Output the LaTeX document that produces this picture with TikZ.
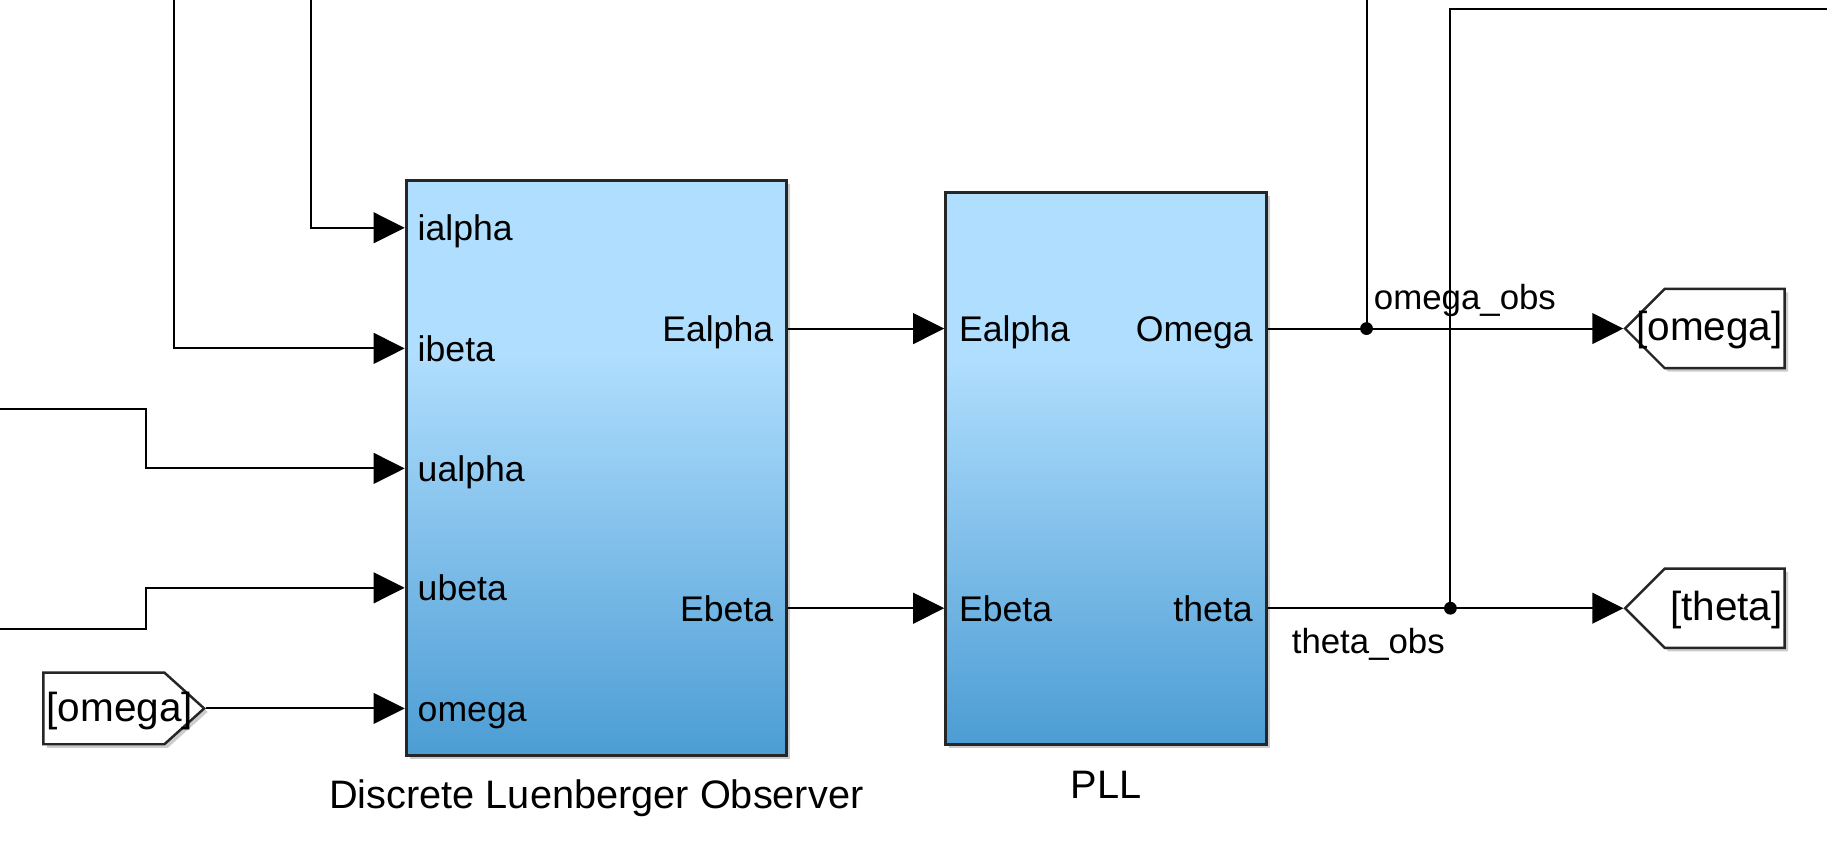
\documentclass[tikz,border=0pt]{standalone}
\usepackage{fontspec}
\setmainfont{Liberation Sans}
\usetikzlibrary{arrows.meta,positioning,calc,shadows,shapes.symbols}
\definecolor{blkTop}{RGB}{176,222,254}
\definecolor{blkBot}{RGB}{76,157,212}
\pgfdeclareverticalshading{simblue}{100bp}{color(0bp)=(blkBot); color(25bp)=(blkBot); color(60bp)=(blkTop); color(100bp)=(blkTop)}
\tikzset{
  subsys/.style={draw=black!85, line width=0.7pt, shade, shading=simblue, inner sep=0pt,
    drop shadow={shadow xshift=0.3mm, shadow yshift=-0.3mm, opacity=0.4}},
  tagblk/.style={draw=black!85, line width=0.6pt, fill=white, signal, signal pointer angle=90, inner sep=0pt,
    drop shadow={shadow xshift=0.3mm, shadow yshift=-0.3mm, opacity=0.4}},
  portlbl/.style={font=\fontsize{8.7}{10}\selectfont, inner sep=0pt},
  caplbl/.style={font=\fontsize{9.7}{11}\selectfont, inner sep=0pt, anchor=base},
  siglbl/.style={font=\fontsize{8.5}{10}\selectfont, inner sep=0pt, anchor=base west},
  taglbl/.style={font=\fontsize{9.9}{12}\selectfont, inner sep=0pt},
  wire/.style={line width=0.5pt},
  sig/.style={wire, -{Triangle[length=2.66mm, width=2.63mm]}},
  junc/.style={circle, fill=black, inner sep=0pt, minimum size=1.1mm}
}
\begin{document}
\begin{tikzpicture}[x=0.1mm, y=-0.1mm]
  \useasboundingbox (0,0) rectangle (1568,744);

  \node[subsys, minimum width=32.65mm, minimum height=49.4mm] (obs) at (511.8,401.7) {};
  \node[subsys, minimum width=27.5mm, minimum height=47.4mm] (pll) at (949.1,401.9) {};
  \node[caplbl] (obs-cap) at ([yshift=-4.4mm]obs.south) {Discrete Luenberger Observer};
  \node[caplbl] (pll-cap) at ([yshift=-4.5mm]pll.south) {PLL};

  \foreach \y/\t [count=\i] in {195.5/ialpha,299/ibeta,402/ualpha,504.5/ubeta,608/omega}{
    \coordinate (obs-in\i) at (obs.west |- 0,\y);
    \node[portlbl, anchor=base west] (obs-l\i) at ([xshift=1.05mm, yshift=-1.1mm]obs-in\i) {\t};
  }
  \foreach \y/\t [count=\i] in {282/Ealpha,522/Ebeta}{
    \coordinate (obs-out\i) at (obs.east |- 0,\y);
    \node[portlbl, anchor=base east] (obs-r\i) at ([xshift=-1.2mm, yshift=-1.1mm]obs-out\i) {\t};
    \coordinate (pll-in\i) at (pll.west |- 0,\y);
    \node[portlbl, anchor=base west] (pll-l\i) at ([xshift=1.2mm, yshift=-1.1mm]pll-in\i) {\t};
  }
  \foreach \y/\t [count=\i] in {282/Omega,522/theta}{
    \coordinate (pll-out\i) at (pll.east |- 0,\y);
    \node[portlbl, anchor=base east] (pll-r\i) at ([xshift=-1.2mm, yshift=-1.1mm]pll-out\i) {\t};
  }

  \node[tagblk, signal to=east, signal pointer angle=84, minimum width=13.8mm, minimum height=6.15mm, anchor=east] (fomega) at (176.8,608) {};
  \node[taglbl, anchor=base west] (fomega-t) at ([xshift=0.3mm, yshift=-1.15mm]fomega.west) {[omega]};
  \node[tagblk, signal to=west, minimum width=13.7mm, minimum height=6.8mm, anchor=west] (gomega) at (1393.2,282) {};
  \node[taglbl, anchor=base east] (gomega-t) at ([xshift=-0.2mm, yshift=-1.04mm]gomega.east) {[omega]};
  \node[tagblk, signal to=west, minimum width=13.7mm, minimum height=6.8mm, anchor=west] (gtheta) at (1393.2,522) {};
  \node[taglbl, anchor=base east] (gtheta-t) at ([xshift=-0.2mm, yshift=-1.04mm]gtheta.east) {[theta]};

  \coordinate (ialpha-src) at (266.6,0);
  \coordinate (ibeta-src) at (149.7,0);
  \coordinate (ualpha-src) at (0,350.7);
  \coordinate (ubeta-src) at (0,539.6);
  \draw[sig] (ialpha-src) |- (obs-in1);
  \draw[sig] (ibeta-src) |- (obs-in2);
  \draw[sig] (ualpha-src) -- ++(125.7,0) |- (obs-in3);
  \draw[sig] (ubeta-src) -- ++(125.7,0) |- (obs-in4);
  \draw[sig] (fomega.east) -- (obs-in5);

  \draw[sig] (obs-out1) -- (pll-in1);
  \draw[sig] (obs-out2) -- (pll-in2);

  \node[junc] (j-omega) at (pll-out1 -| 1172.8,0) {};
  \node[junc] (j-theta) at (pll-out2 -| 1244.8,0) {};
  \coordinate (omega-up) at (1172.8,0);
  \coordinate (theta-top) at (1568,7.5);
  \draw[sig] (pll-out1) -- (gomega.west);
  \draw[sig] (pll-out2) -- (gtheta.west);
  \draw[wire] (j-omega.center) -- (omega-up);
  \draw[wire] (j-theta.center) |- (theta-top);

  \node[siglbl] (omega-obs) at (1178.5,266) {omega\_obs};
  \node[siglbl] (theta-obs) at (1108,560.5) {theta\_obs};
\end{tikzpicture}
\end{document}
